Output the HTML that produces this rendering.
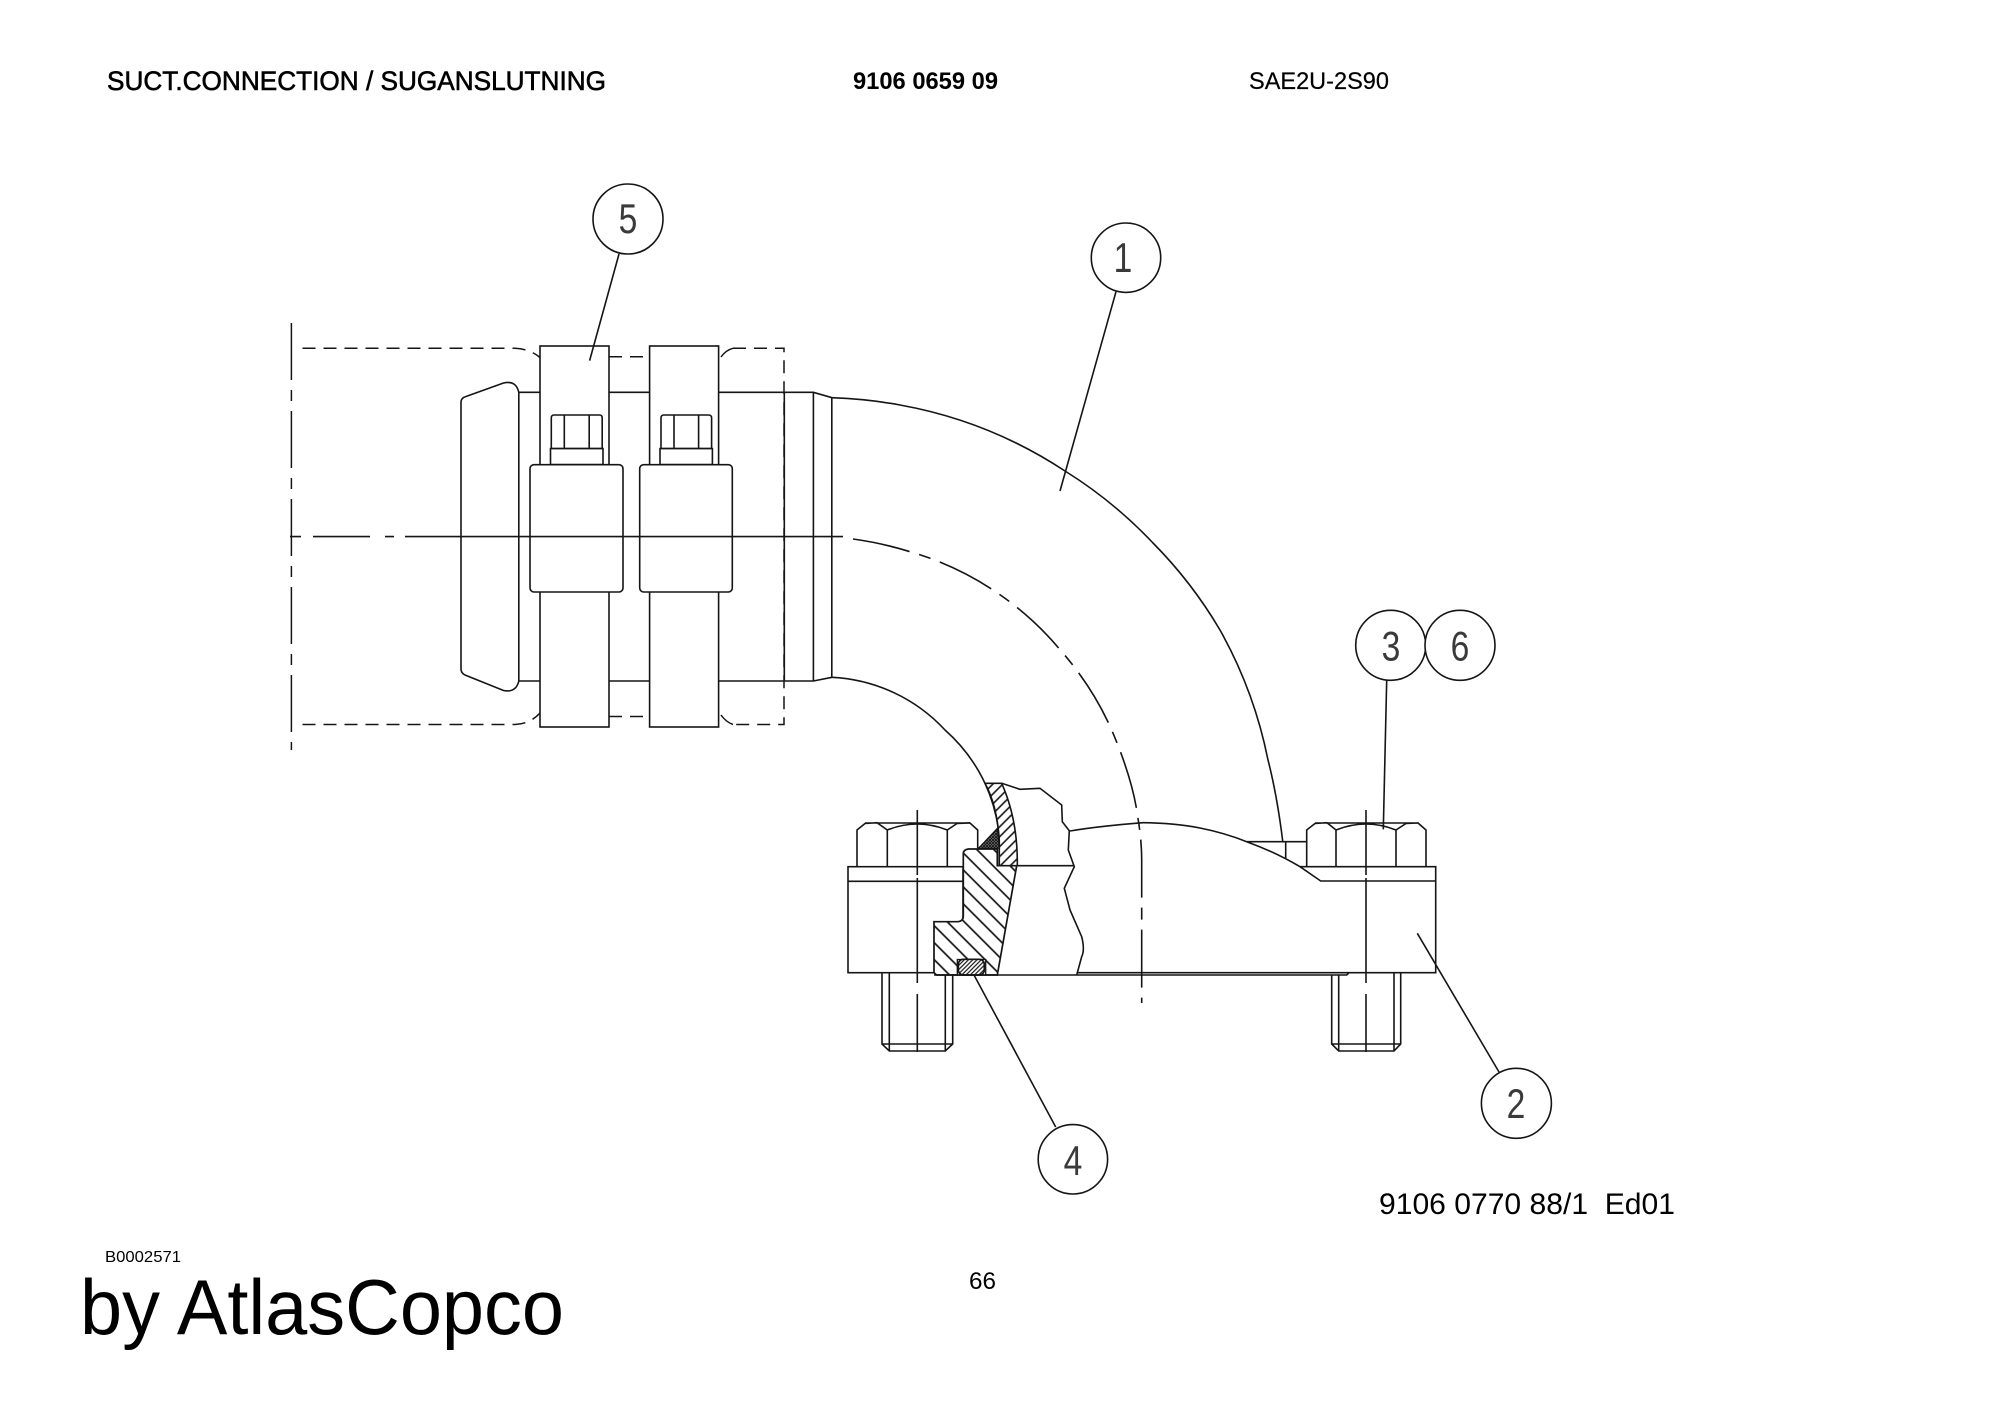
<!DOCTYPE html>
<html lang="en">
<head>
<meta charset="utf-8">
<title>Suct. connection</title>
<style>
html,body{margin:0;padding:0;background:#fff;width:2000px;height:1414px;overflow:hidden}
svg{display:block}
text{font-family:"Liberation Sans",Arial,sans-serif;fill:#000}
.l{fill:none;stroke:#151515;stroke-width:1.6}
.w{fill:#fff;stroke:#151515;stroke-width:1.6}
.d{fill:none;stroke:#151515;stroke-width:1.5;stroke-dasharray:13 8}
.c{fill:none;stroke:#151515;stroke-width:1.5;stroke-dasharray:57 10 11 10}
.n{font-size:42px;fill:#3a3a3a;text-anchor:middle}
</style>
</head>
<body>
<svg width="2000" height="1414" viewBox="0 0 2000 1414" xmlns="http://www.w3.org/2000/svg">
<defs>
<pattern id="h1" width="12" height="12" patternUnits="userSpaceOnUse" patternTransform="rotate(-45)"><rect width="12" height="12" fill="#fff"/><line x1="6" y1="0" x2="6" y2="12" stroke="#151515" stroke-width="1.7"/></pattern>
<pattern id="h2" width="7" height="7" patternUnits="userSpaceOnUse" patternTransform="rotate(45)"><rect width="7" height="7" fill="#fff"/><line x1="3.5" y1="0" x2="3.5" y2="7" stroke="#151515" stroke-width="1.6"/></pattern>
<pattern id="h3" width="3" height="3" patternUnits="userSpaceOnUse" patternTransform="rotate(45)"><rect width="3" height="3" fill="#fff"/><line x1="1.5" y1="0" x2="1.5" y2="3" stroke="#151515" stroke-width="1.2"/></pattern>
<pattern id="h4" width="3" height="3" patternUnits="userSpaceOnUse"><rect width="3" height="3" fill="#888"/><path d="M0 0L3 3M3 0L0 3" stroke="#111" stroke-width=".9"/></pattern>
</defs>

<!-- header -->
<text x="107" y="90" font-size="27" textLength="499" lengthAdjust="spacingAndGlyphs" stroke="#000" stroke-width=".6">SUCT.CONNECTION / SUGANSLUTNING</text>
<text x="853" y="89" font-size="24.5" font-weight="bold" textLength="145" lengthAdjust="spacingAndGlyphs">9106 0659 09</text>
<text x="1249" y="89" font-size="24.5" textLength="140" lengthAdjust="spacingAndGlyphs" stroke="#000" stroke-width=".2">SAE2U-2S90</text>

<!-- footer -->
<text x="1379" y="1214" font-size="30" textLength="296" lengthAdjust="spacingAndGlyphs" xml:space="preserve">9106 0770 88/1  Ed01</text>
<text x="105" y="1262" font-size="16" textLength="76" lengthAdjust="spacingAndGlyphs">B0002571</text>
<text x="969" y="1289" font-size="24" textLength="27" lengthAdjust="spacingAndGlyphs">66</text>
<text x="80" y="1334" font-size="78" textLength="484" lengthAdjust="spacingAndGlyphs">by AtlasCopco</text>

<!-- dashed envelope -->
<path class="c" d="M291.4 323V750"/>
<path class="d" d="M302.5 348.3H515Q530 349 540 357.5"/>
<path class="d" d="M302.5 724.5H515Q530 724 540 713"/>
<path class="d" d="M609 356.8H646M609 716.5H646"/>
<path class="d" style="stroke-dasharray:none" d="M721 357Q726 350 733 348.3"/>
<path class="d" style="stroke-dasharray:none" d="M721 715Q726 722 733 724.5"/>
<path class="d" d="M733 348.3H784V724.5H733"/>

<!-- pipe -->
<path class="l" d="M518.8 392.3H813.4L832 397.7M518.8 681H813.4L832 677.3"/>
<path class="l" d="M784.3 392.3V681M813.4 392.3V681M831.8 397.7V677.3"/>
<path class="w" d="M518.8 392.3Q516 380 503.5 383L466 396.5Q461 398 461 402V669Q461 673 465 675L503.5 690.5Q516 693 518.8 681Z"/>
<path class="l" d="M832 397.7Q868 399 900 405A442 442 0 0 1 1065 471A442 442 0 0 1 1153 543A444 444 0 0 1 1220 630A444 444 0 0 1 1268 760Q1277 795 1282.7 841"/>
<path class="l" d="M832 677.3A165 165 0 0 1 945 730A165 165 0 0 1 985 783.3A165 165 0 0 1 998.3 828.3"/>
<path class="l" style="stroke-dasharray:58 10 12 10" d="M853 539Q882 543 910 551.7A305 305 0 0 1 993 590A305 305 0 0 1 1061.7 651.7A305 305 0 0 1 1111.7 730Q1133 780 1137.7 816.7Q1141.7 840 1141.7 860V1003"/>

<!-- clamps -->
<rect class="w" x="540" y="346" width="69" height="381"/>
<rect class="w" x="649.6" y="346" width="69" height="381"/>
<path class="w" d="M551.3 448.6V418Q551.3 415 554 415H599.5Q602.2 415 602.2 418V448.6Z"/>
<path class="l" d="M564.3 415V448.6M589.2 415V448.6"/>
<rect class="w" x="550.5" y="448.6" width="52.5" height="16"/>
<path class="w" d="M661 448.6V418Q661 415 664 415H708.6Q711.6 415 711.6 418V448.6Z"/>
<path class="l" d="M674 415V448.6M698.6 415V448.6"/>
<rect class="w" x="660" y="448.6" width="52.4" height="16"/>
<rect class="w" x="530" y="464.7" width="93" height="127.3" rx="4"/>
<rect class="w" x="639.7" y="464.7" width="92.6" height="127.3" rx="4"/>
<path class="l" d="M290 536.6H301M313 536.6H370M385 536.6H394M405 536.6H843"/>

<!-- left bolt and plate -->
<path class="l" d="M882 972.7V1044L889.3 1051H945.3L952.7 1044V972.7M889.3 972.7V1051M945.3 972.7V1051M882 1044H952.7"/>
<path class="l" d="M857 866.7V830L865 823.5L877 822.7L887.3 830Q917 818 947.3 830L957 823.5L970 823L977.7 830V848M887.3 830V866.7M947.3 830V866.7M865 823H970"/>
<rect class="w" x="848" y="866.7" width="115" height="106"/>
<path class="l" d="M848 881.3H963"/>
<path class="l" d="M917.3 810V875M917.3 878V983M917.3 994V1052"/>

<!-- section -->
<path d="M968.3 849H997.3V865.7H1016.7L997.3 975H936.7L934 972.7V921.7H958Q963.3 921 963.3 916V853.3Q963.3 850 968.3 849Z" fill="url(#h1)" stroke="#151515" stroke-width="1.7"/>
<path d="M985 783.3H1001.7Q1018 820 1017.3 865.7H999.3V840Q997 805 985 783.3Z" fill="url(#h2)" stroke="#151515" stroke-width="1.6"/>
<path d="M978.3 848.3L997.3 828.3L999.3 848.3Z" fill="url(#h4)" stroke="#151515" stroke-width="1"/>
<path d="M997.3 849V865.7" class="l"/>
<rect x="957.3" y="959.5" width="28.4" height="15.5" fill="#fff" stroke="#151515" stroke-width="1.3"/>
<rect x="958.3" y="959.3" width="26" height="15.7" rx="5" fill="url(#h3)" stroke="#151515" stroke-width="1.7"/>

<!-- elbow flange body -->
<path class="l" d="M1001.7 783.3L1020 789.3L1040 788.3L1061.7 805L1062.3 821.7L1069.3 830.7L1068.3 850L1074.3 866.7L1064.3 888.3L1070 910L1081.7 936.7Q1085 950 1081.7 956.7L1076.7 975"/>
<path class="l" d="M1017 865.7H1074.3"/>
<path class="l" d="M1070 831Q1100 826 1143 822.7Q1175 823 1200 828Q1225 833 1246.7 841.7Q1275 852 1300 866.7L1320.7 881H1435.7"/>
<path class="l" d="M1246.7 841.7H1306.7M1285.7 841.7V859"/>

<!-- right bolt and plate -->
<path class="l" d="M1331.7 975V1044L1338.7 1051H1394L1400.7 1044V972.7M1338.7 975V1051M1394 972.7V1051M1331.7 1044H1400.7"/>
<path class="l" d="M1306.7 866.7V830L1315 823.5L1327 822.7L1336 830Q1366 818 1396 830L1406 823.5L1418 823L1426 830V866.7M1336 830V866.7M1396 830V866.7M1315 823H1418"/>
<path class="l" d="M1300 866.7H1435.7V972.7H1340"/>
<path class="l" d="M934 975H1346.7L1349 972.7M1076.7 972.7H1340"/>
<path class="l" d="M1366 810V875M1366 878V983M1366 994V1052"/>

<!-- leaders -->
<path class="l" d="M619 254L589.6 360.6"/>
<path class="l" d="M1116 291.7L1060 491"/>
<path class="l" d="M1386.7 680L1383.3 829.3"/>
<path class="l" d="M1417.3 933.3L1499 1072"/>
<path class="l" d="M974 975L1055.7 1127"/>

<!-- balloons -->
<circle class="w" cx="628" cy="219" r="35"/>
<circle class="w" cx="1126" cy="257.7" r="34.7"/>
<circle class="w" cx="1390.7" cy="645.3" r="35"/>
<circle class="w" cx="1460" cy="645.3" r="35"/>
<circle class="w" cx="1516.4" cy="1103.3" r="35"/>
<circle class="w" cx="1072.9" cy="1159.3" r="34.7"/>
<text class="n" transform="translate(628 233) scale(.8 1)">5</text>
<text class="n" transform="translate(1123 272) scale(.8 1)">1</text>
<text class="n" transform="translate(1391 660.7) scale(.8 1)">3</text>
<text class="n" transform="translate(1460 660.7) scale(.8 1)">6</text>
<text class="n" transform="translate(1516 1118) scale(.8 1)">2</text>
<text class="n" transform="translate(1073 1175) scale(.8 1)">4</text>
</svg>
</body>
</html>
